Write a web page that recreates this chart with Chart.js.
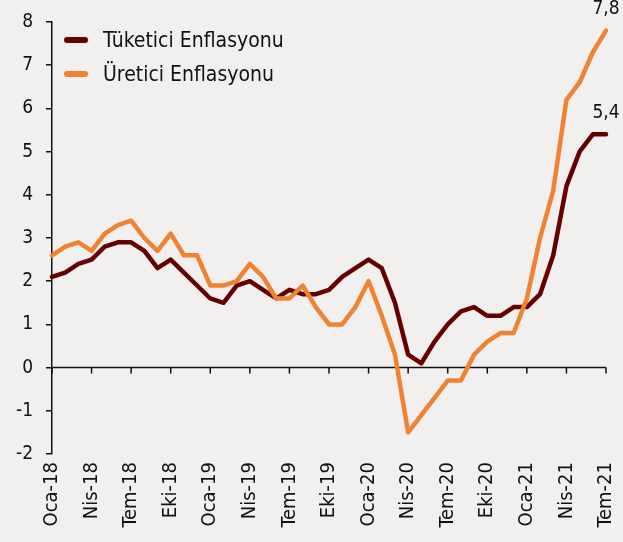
<!DOCTYPE html>
<html>
<head>
<meta charset="utf-8">
<script src="https://cdn.jsdelivr.net/npm/chart.js@4"></script>
<style>
  html, body { margin: 0; padding: 0; background: #f2f0ef; }
  #wrap { position: relative; width: 623px; height: 542px; }
  #legend {
    position: absolute; left: 64px; top: 23px;
    font-family: 'DejaVu Sans Condensed', 'DejaVu Sans', sans-serif;
    font-size: 21px; color: #111;
  }
  .row { display: flex; align-items: center; height: 34px; }
  .swatch { width: 24px; height: 6px; border-radius: 3px; margin-right: 15px; }
</style>
</head>
<body>
<div id="wrap">
  <canvas id="chart" width="623" height="542"></canvas>
  <div id="legend"></div>
</div>
<script>
/* Monthly series, Oca-18 .. Tem-21 (annual % change) */
const MONTHS = ['Oca', 'Şub', 'Mar', 'Nis', 'May', 'Haz', 'Tem', 'Ağu', 'Eyl', 'Eki', 'Kas', 'Ara'];
const YEARS  = ['18', '19', '20', '21'];
const labels = [];
YEARS.forEach(y => MONTHS.forEach(m => labels.push(m + '-' + y)));
labels.length = 43;   // ends at Tem-21

const tuketici = [2.1, 2.2, 2.4, 2.5, 2.8, 2.9, 2.9, 2.7, 2.3, 2.5, 2.2, 1.9,
                  1.6, 1.5, 1.9, 2.0, 1.8, 1.6, 1.8, 1.7, 1.7, 1.8, 2.1, 2.3,
                  2.5, 2.3, 1.5, 0.3, 0.1, 0.6, 1.0, 1.3, 1.4, 1.2, 1.2, 1.4,
                  1.4, 1.7, 2.6, 4.2, 5.0, 5.4, 5.4];
const uretici  = [2.6, 2.8, 2.9, 2.7, 3.1, 3.3, 3.4, 3.0, 2.7, 3.1, 2.6, 2.6,
                  1.9, 1.9, 2.0, 2.4, 2.1, 1.6, 1.6, 1.9, 1.4, 1.0, 1.0, 1.4,
                  2.0, 1.2, 0.3, -1.5, -1.1, -0.7, -0.3, -0.3, 0.3, 0.6, 0.8, 0.8,
                  1.6, 3.0, 4.1, 6.2, 6.6, 7.3, 7.8];

const SERIES_NAMES  = ['Tüketici Enflasyonu', 'Üretici Enflasyonu'];
const SERIES_COLORS = ['#660000', '#ef8233'];

const FONT = "'DejaVu Sans Condensed', 'DejaVu Sans', sans-serif";
const INK  = '#111';

/* x axis line sits at zero, with a tick every third month */
const zeroAxis = {
  id: 'zeroAxis',
  beforeDatasetsDraw(chart) {
    const { ctx, chartArea, scales: { x, y } } = chart;
    const y0 = y.getPixelForValue(0);
    ctx.save();
    ctx.strokeStyle = INK;
    ctx.lineWidth = 1.5;
    ctx.beginPath();
    ctx.moveTo(chartArea.left, y0);
    ctx.lineTo(chartArea.right, y0);
    labels.forEach((_, i) => {
      if (i % 3) return;
      const px = x.getPixelForValue(i);
      ctx.moveTo(px, y0);
      ctx.lineTo(px, y0 + 6);
    });
    ctx.stroke();
    ctx.restore();
  },
};

/* value labels above the last point of each line */
const endLabels = {
  id: 'endLabels',
  afterDatasetsDraw(chart) {
    const { ctx } = chart;
    ctx.save();
    ctx.font = '19px ' + FONT;
    ctx.fillStyle = INK;
    ctx.textAlign = 'center';
    ctx.textBaseline = 'bottom';
    chart.data.datasets.forEach((ds, i) => {
      const meta = chart.getDatasetMeta(i);
      const last = meta.data[meta.data.length - 1];
      const v = ds.data[ds.data.length - 1];
      ctx.fillText(v.toFixed(1).replace('.', ','), last.x, last.y - 12);
    });
    ctx.restore();
  },
};

const chart = new Chart(document.getElementById('chart'), {
  type: 'line',
  data: {
    labels: labels,
    datasets: [tuketici, uretici].map((d, i) => ({
      label:           SERIES_NAMES[i],
      data:            d,
      borderColor:     SERIES_COLORS[i],
      backgroundColor: SERIES_COLORS[i],
      borderWidth:     4.5,
      borderCapStyle:  'round',
      borderJoinStyle: 'round',
      tension:         0,
      pointRadius:     0,
      clip:            false,
      order:           i === 0 ? 1 : 0,   // orange drawn on top
    })),
  },
  options: {
    responsive: false,
    animation: false,
    events: [],
    layout: { padding: { top: 22, right: 17, left: 0, bottom: 0 } },
    plugins: {
      legend:  { display: false },
      tooltip: { enabled: false },
    },
    scales: {
      x: {
        offset: false,
        grid:   { display: false, drawTicks: false },
        border: { display: false },
        ticks: {
          autoSkip: false,
          maxRotation: 90,
          minRotation: 90,
          padding: 8,
          color: INK,
          font: { family: FONT, size: 20 },
          callback: (v, i) => (i % 3 === 0 ? labels[i] : null),
        },
        afterFit: s => { s.height = 88; s.paddingLeft = 0; s.paddingRight = 0; },
      },
      y: {
        min: -2,
        max: 8,
        grid:   { drawOnChartArea: false, tickLength: 6, color: INK, lineWidth: 1.5 },
        border: { color: INK, width: 1.5 },
        ticks: {
          stepSize: 1,
          padding: 13,
          color: INK,
          font: { family: FONT, size: 19 },
        },
        afterFit: s => { s.width = 52; s.paddingTop = 0; s.paddingBottom = 0; },
      },
    },
  },
  plugins: [zeroAxis, endLabels],
});

/* legend built from the datasets */
const legend = document.getElementById('legend');
chart.data.datasets.forEach(ds => {
  const row = document.createElement('div');
  row.className = 'row';
  row.innerHTML = '<span class="swatch" style="background:' + ds.borderColor + '"></span>' + ds.label;
  legend.appendChild(row);
});
</script>
</body>
</html>
